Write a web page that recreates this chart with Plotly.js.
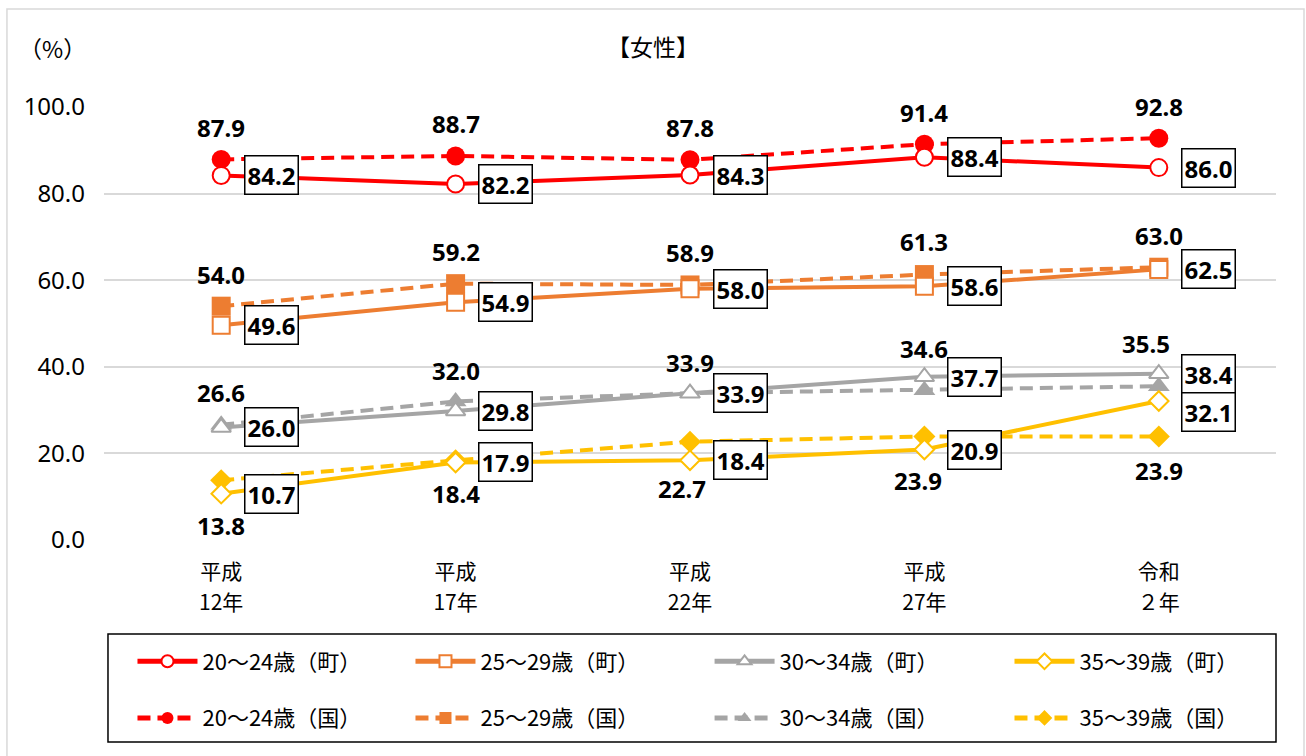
<!DOCTYPE html>
<html>
<head>
<meta charset="utf-8">
<script src="https://cdn.plot.ly/plotly-3.0.1.min.js"></script>
<style>
html,body{margin:0;padding:0;background:#fff;}
#chart{width:1306px;height:756px;}
</style>
</head>
<body>
<div id="chart"></div>
<script>
// ---- data ----
const eraLabels = ['平成', '平成', '平成', '平成', '令和'];
const yearLabels = ['12年', '17年', '22年', '27年', '２年'];
const town20_24 = [84.2, 82.2, 84.3, 88.4, 86.0];
const town25_29 = [49.6, 54.9, 58.0, 58.6, 62.5];
const town30_34 = [26.0, 29.8, 33.9, 37.7, 38.4];
const town35_39 = [10.7, 17.9, 18.4, 20.9, 32.1];
const nat20_24 = [87.9, 88.7, 87.8, 91.4, 92.8];
const nat25_29 = [54.0, 59.2, 58.9, 61.3, 63.0];
const nat30_34 = [26.6, 32.0, 33.9, 34.6, 35.5];
const nat35_39 = [13.8, 18.4, 22.7, 23.9, 23.9];
const townNames = ['20～24歳（町）', '25～29歳（町）', '30～34歳（町）', '35～39歳（町）'];
const natNames = ['20～24歳（国）', '25～29歳（国）', '30～34歳（国）', '35～39歳（国）'];
const yTicks = [0, 20, 40, 60, 80, 100];

// ---- styles ----
const NFONT = '"Noto Sans", "Noto Sans CJK JP", sans-serif';
const JFONT = '"Noto Sans CJK JP", sans-serif';
const colors = ['#FF0000', '#ED7D31', '#A5A5A5', '#FFC000'];
const symbols = ['circle', 'square', 'triangle-up', 'diamond'];
const sizes = [17, 17, 17, 15];
const townSeries = [town20_24, town25_29, town30_34, town35_39];
const natSeries = [nat20_24, nat25_29, nat30_34, nat35_39];
const xs = eraLabels.map((c, i) => i);
const legendIds = ['legend', 'legend2', 'legend3', 'legend4'];

const traces = [];
natSeries.forEach((ys, k) => {
  traces.push({
    x: xs, y: ys, name: natNames[k], type: 'scatter', mode: 'lines+markers',
    line: {color: colors[k], width: 4, dash: '13px,7px'},
    marker: {symbol: symbols[k], size: sizes[k] + 2, color: colors[k], line: {width: 0}},
    legend: legendIds[k], legendgroup: natNames[k], legendrank: 2, hoverinfo: 'skip'
  });
});
townSeries.forEach((ys, k) => {
  traces.push({
    x: xs, y: ys, name: townNames[k], type: 'scatter', mode: 'lines+markers',
    line: {color: colors[k], width: 4},
    marker: {symbol: symbols[k], size: sizes[k], color: '#FFFFFF', line: {color: colors[k], width: 2}},
    legend: legendIds[k], legendgroup: townNames[k], legendrank: 1, hoverinfo: 'skip'
  });
});
// carrier for the second line of category labels
traces.push({x: xs, y: xs.map(() => null), xaxis: 'x2', yaxis: 'y', mode: 'none',
  type: 'scatter', showlegend: false, hoverinfo: 'skip'});

// label placement tweaks (pixel offsets of the national labels from their points)
const natLabelDY = [
  [32, 32, 32, 32, 32],
  [32, 32, 32, 33, 32],
  [32, 31, 31, 42, 43],
  [-45, -33, -47, -44, -34]
];
const natLabelDX = [
  [0, 0, 0, 0, 0],
  [0, 0, 0, 0, 0],
  [0, 0, 0, 0, -13],
  [0, 0, -8, -6, 0]
];
const annotations = [];
natSeries.forEach((ys, k) => {
  ys.forEach((v, i) => {
    annotations.push({
      x: i, y: v, xref: 'x', yref: 'y', text: v.toFixed(1), showarrow: false,
      xshift: natLabelDX[k][i], yshift: natLabelDY[k][i],
      font: {family: NFONT, size: 24, weight: 'bold', color: '#000'}
    });
  });
});
townSeries.forEach((ys, k) => {
  ys.forEach((v, i) => {
    let ysh = 0;
    if (k === 3 && i === 4) ysh = -11;
    annotations.push({
      x: i, y: v, xref: 'x', yref: 'y', text: v.toFixed(1), showarrow: false,
      xshift: 50, yshift: ysh,
      bgcolor: '#FFFFFF', bordercolor: '#000000', borderwidth: 1.5, borderpad: 2,
      font: {family: NFONT, size: 24, weight: 'bold', color: '#000'}
    });
  });
});
annotations.push({
  xref: 'paper', yref: 'paper', x: 0, xshift: -52, y: 1, yshift: 59, xanchor: 'center', yanchor: 'middle',
  text: '（%）', showarrow: false, font: {family: JFONT, size: 23, color: '#000'}
});

const legendX = [0.0243, 0.2615, 0.5167, 0.7726];
const xCommon = {
  range: [-0.5, 4.5], tickvals: xs, showgrid: false, zeroline: false,
  showline: false, ticks: '', tickfont: {family: JFONT, size: 21, color: '#000'}, fixedrange: true
};
const layout = {
  width: 1306, height: 756,
  margin: {l: 104, r: 30, t: 107, b: 216, autoexpand: false},
  paper_bgcolor: '#FFFFFF', plot_bgcolor: '#FFFFFF',
  showlegend: true,
  title: {text: '【女性】', xref: 'container', yref: 'container', x: 0.5, xanchor: 'center',
          y: 1 - 48 / 756, yanchor: 'middle', font: {family: JFONT, size: 23, color: '#000'}},
  xaxis: Object.assign({}, xCommon, {ticktext: eraLabels, ticklabelstandoff: 17}),
  xaxis2: Object.assign({}, xCommon, {ticktext: yearLabels, ticklabelstandoff: 48,
          overlaying: 'x', anchor: 'y', side: 'bottom'}),
  yaxis: {
    range: [0, 100], tickvals: yTicks, ticktext: yTicks.map(v => v.toFixed(1)),
    showgrid: true, gridcolor: '#D9D9D9', gridwidth: 2, zeroline: false, showline: false,
    ticks: '', ticklabelstandoff: 18, tickfont: {family: NFONT, size: 24, color: '#000'}, fixedrange: true
  },
  annotations: annotations,
  shapes: [
    {type: 'rect', xref: 'paper', yref: 'paper', x0: 0.0034, x1: 1.0, y0: -0.4665, y1: -0.2171,
     line: {color: '#000', width: 1.5}, fillcolor: 'rgba(0,0,0,0)'},
    {type: 'rect', xref: 'paper', yref: 'paper', x0: -0.0828, x1: 1.0239, y0: -0.51, y1: 1.2263,
     line: {color: '#D9D9D9', width: 1.5}, fillcolor: 'rgba(0,0,0,0)'}
  ]
};
legendIds.forEach((id, k) => {
  layout[id] = {
    orientation: 'v', xref: 'paper', yref: 'paper', x: legendX[k], y: -0.3464,
    xanchor: 'left', yanchor: 'middle', itemwidth: 60, itemsizing: 'constant',
    tracegroupgap: 25, bgcolor: 'rgba(0,0,0,0)', borderwidth: 0,
    font: {family: JFONT, size: 22, color: '#000'}, itemclick: false, itemdoubleclick: false
  };
});

Plotly.newPlot('chart', traces, layout, {displayModeBar: false, staticPlot: true});
</script>
</body>
</html>
